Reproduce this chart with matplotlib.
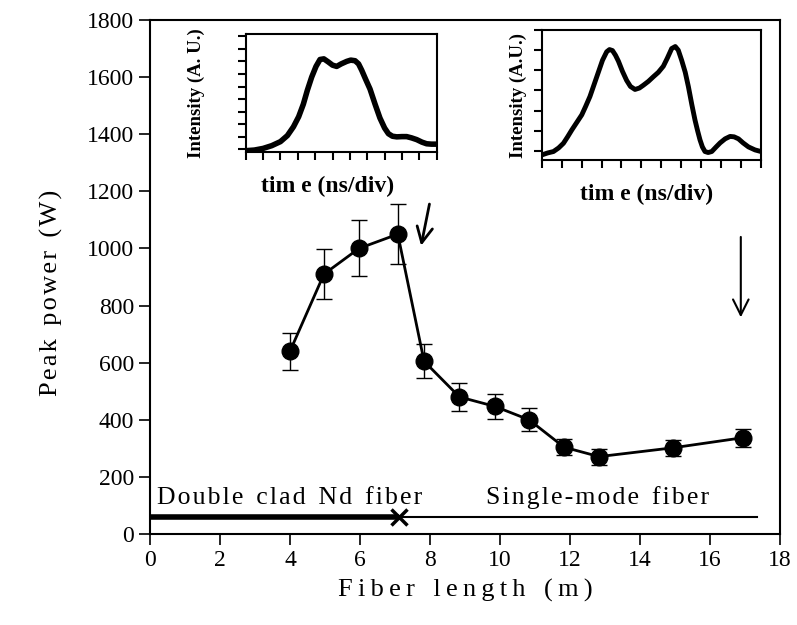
import numpy as np
import matplotlib.pyplot as plt

# main data: peak power vs fiber length
length = [4.0, 4.97, 5.97, 7.08, 7.83, 8.84, 9.85, 10.83, 11.83, 12.83, 14.95, 16.93]
power = [640, 910, 1000, 1050, 605, 480, 447, 400, 304, 271, 302, 337]
power_err = [65, 88, 98, 105, 60, 48, 45, 40, 29, 28, 28, 32]

# fiber sections along the bottom
splice_x = 7.1
fiber_end = 17.35
fiber_y = 60

# inset pulse shapes (time in divisions, intensity in tick units)
t1 = [0, 0.5, 1.0, 1.5, 2.0, 2.4, 2.75, 3.05, 3.32, 3.55, 3.8, 4.05, 4.28, 4.5,
      4.76, 5.0, 5.24, 5.5, 5.82, 6.05, 6.3, 6.5, 6.68, 6.9, 7.16, 7.45, 7.73,
      8.0, 8.22, 8.45, 8.7, 9.0, 9.27, 9.55, 9.85, 10.15, 10.42, 10.7, 11]
i1 = [-0.1, -0.05, 0.08, 0.3, 0.62, 1.1, 1.8, 2.6, 3.6, 4.7, 5.75, 6.6, 7.15, 7.2,
      6.95, 6.7, 6.6, 6.8, 7.0, 7.1, 7.05, 6.8, 6.3, 5.6, 4.8, 3.6, 2.5,
      1.7, 1.25, 1.05, 1.0, 1.02, 1.02, 0.92, 0.78, 0.58, 0.45, 0.42, 0.42]
t2 = [0, 0.3, 0.59, 0.85, 1.09, 1.3, 1.51, 1.75, 2.01, 2.2, 2.42, 2.63, 2.84, 3.05,
      3.26, 3.4, 3.55, 3.7, 3.85, 4.05, 4.26, 4.45, 4.68, 4.9, 5.10, 5.35, 5.60,
      5.85, 6.10, 6.3, 6.52, 6.7, 6.85, 7.02, 7.2, 7.36, 7.53, 7.69, 7.82, 7.94,
      8.06, 8.19, 8.35, 8.53, 8.75, 8.95, 9.2, 9.45, 9.65, 9.87, 10.1, 10.37, 10.7, 11]
i2 = [-0.2, -0.1, -0.03, 0.15, 0.38, 0.7, 1.04, 1.4, 1.79, 2.2, 2.7, 3.3, 3.9, 4.5,
      4.92, 5.03, 4.98, 4.75, 4.45, 3.95, 3.5, 3.2, 3.05, 3.12, 3.26, 3.45, 3.68,
      3.9, 4.2, 4.6, 5.08, 5.18, 5.0, 4.5, 3.9, 3.18, 2.3, 1.53, 1.0, 0.55,
      0.2, -0.03, -0.08, -0.03, 0.2, 0.4, 0.6, 0.72, 0.7, 0.6, 0.4, 0.2, 0.05, -0.03]

plt.rcParams['font.family'] = ['Liberation Serif', 'DejaVu Serif']


def spaced(s, sep='\u200a', word='\u2002'):
    return word.join(sep.join(w) for w in s.split(' '))


fig = plt.figure(figsize=(7.97, 6.25), dpi=100)
ax = fig.add_axes([150 / 797, 91 / 625, 630 / 797, 514 / 625])

ax.errorbar(length, power, yerr=power_err, fmt='-o', color='black', lw=2,
            ms=12, elinewidth=1, capsize=6, capthick=1, ecolor='black')

ax.plot([0, splice_x], [fiber_y, fiber_y], color='black', lw=4, solid_capstyle='butt')
ax.plot([splice_x, fiber_end], [fiber_y, fiber_y], color='black', lw=1.5)
ax.plot([splice_x], [fiber_y], marker='x', color='black', ms=11, mew=2.5)

ax.text(0.2, 88, spaced('Double clad Nd fiber'), fontsize=18.5, ha='left', va='bottom')
ax.text(9.6, 88, spaced('Single-mode fiber'), fontsize=18.5, ha='left', va='bottom')

ax.annotate('', xy=(7.73, 1000), xytext=(8.0, 1165),
            arrowprops=dict(arrowstyle='->', lw=2, color='black', mutation_scale=28))
ax.annotate('', xy=(16.88, 749), xytext=(16.88, 1050),
            arrowprops=dict(arrowstyle='->', lw=1.5, color='black', mutation_scale=28))

ax.set_xlim(0, 18)
ax.set_ylim(0, 1800)
ax.set_xticks(range(0, 19, 2))
ax.set_yticks(range(0, 1801, 200))
ax.tick_params(labelsize=17, length=8, width=1.2, direction='out')
for s in ax.spines.values():
    s.set_linewidth(1.5)
ax.set_xlabel(spaced('Fiber length (m)', sep='\u2009', word='\u2002\u2009'), fontsize=19, labelpad=6)
ax.set_ylabel(spaced('Peak power (W)', sep='\u200a', word='\u2002'), fontsize=19, labelpad=17)
ax.yaxis.label.set_y(0.47)


# insets
def inset(rect, t, y, ylim, nyt, label, lw, ypad, xlab_x):
    a = fig.add_axes(rect)
    a.plot(t, y, color='black', lw=lw, solid_capstyle='round', solid_joinstyle='round')
    a.set_xlim(0, 11)
    a.set_ylim(*ylim)
    a.set_xticks(range(12))
    a.set_yticks(range(nyt))
    a.set_xticklabels([])
    a.set_yticklabels([])
    a.tick_params(length=6, width=1.5, direction='out')
    for s in a.spines.values():
        s.set_linewidth(1.5)
    a.set_xlabel('tim e (ns/div)', fontsize=17, fontweight='bold', labelpad=8)
    a.xaxis.label.set_x(xlab_x)
    a.set_ylabel(label, fontsize=13.5, fontweight='bold', labelpad=ypad)
    return a


inset([245.7 / 797, (625 - 151.7) / 625, 191 / 797, 118 / 625], t1, i1,
      (-0.18, 9.2), 10, 'Intensity (A. U.)', 4, 20, 0.43)
inset([541.7 / 797, (625 - 160) / 625, 219.3 / 797, 130 / 625], t2, i2,
      (-0.45, 6.0), 7, 'Intensity (A.U.)', 3.5, 1, 0.48)

fig.savefig('out.png', dpi=100)
